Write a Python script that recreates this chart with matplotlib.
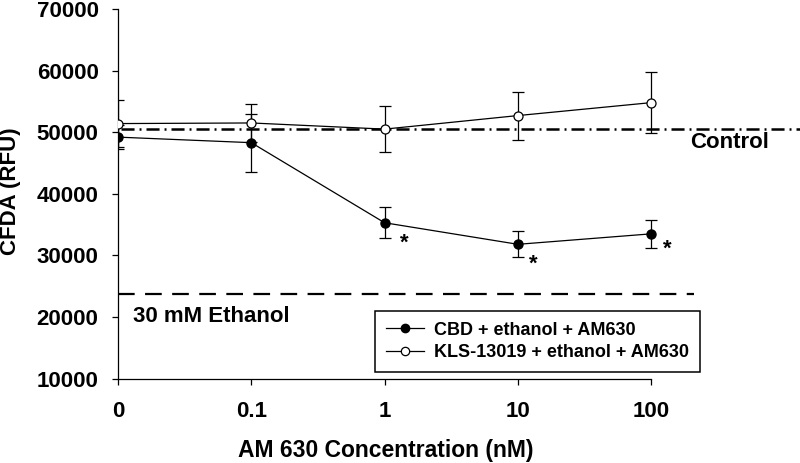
import matplotlib
matplotlib.use("Agg")
import matplotlib.pyplot as plt
import matplotlib.transforms as mtransforms
from matplotlib.lines import Line2D
import numpy as np

plt.rcParams['font.family'] = ['Liberation Sans', 'DejaVu Sans']
plt.rcParams['font.weight'] = 'bold'
plt.rcParams['lines.scale_dashes'] = False

# ---- data ----
x_labels = ['0', '0.1', '1', '10', '100']
cbd = [49200, 48300, 35300, 31800, 33500]
cbd_err = [2000, 4700, 2500, 2100, 2300]
kls = [51400, 51500, 50500, 52700, 54800]
kls_err = [3800, 3100, 3700, 3900, 5000]
control_level = 50450
ethanol_level = 23800
star_idx = [2, 3, 4]
yticks = [10000, 20000, 30000, 40000, 50000, 60000, 70000]
series_names = ['CBD + ethanol + AM630', 'KLS-13019 + ethanol + AM630']

W, H = 800, 463
fig = plt.figure(figsize=(8, 4.63), dpi=100)
ax_left, ax_right = 118, 700
ax_top, ax_bot = 9, 378.6
ax = fig.add_axes([ax_left / W, 1 - ax_bot / H, (ax_right - ax_left) / W, (ax_bot - ax_top) / H])

x = np.arange(len(x_labels))
step_px = 133.3
ax.set_xlim(0, (ax_right - ax_left) / step_px)
ax.set_ylim(10000, 70000)

# reference lines
trans = mtransforms.blended_transform_factory(ax.transAxes, ax.transData)
ax.plot([0.005, (W - ax_left) / (ax_right - ax_left)], [control_level, control_level],
        transform=trans, color='black', lw=1.8, dashes=(9.4, 3.6, 1.4, 3.6),
        clip_on=False, zorder=1)
ax.plot([0, 0.99], [ethanol_level, ethanol_level], transform=trans,
        color='black', lw=1.6, dashes=(12, 7.5), zorder=1)

# series
ax.errorbar(x, cbd, yerr=cbd_err, color='black', lw=0.9, elinewidth=0.9,
            capsize=4, capthick=0.9, marker='o', ms=6.5, mfc='black',
            mec='black', zorder=3)
ax.errorbar(x, kls, yerr=kls_err, color='black', lw=0.9, elinewidth=0.9,
            capsize=4, capthick=0.9, marker='o', ms=6.5, mfc='white',
            mec='black', mew=0.9, zorder=4)

# significance stars
star_offsets = [(14, -19), (11, -18), (11.5, -15)]
for i, off in zip(star_idx, star_offsets):
    ax.annotate('*', xy=(x[i], cbd[i]), xytext=off, textcoords='offset points',
                ha='center', va='baseline', fontsize=16, fontweight='bold')

# text labels
ax.text(690 / W, 1 - 143 / H, 'Control', transform=fig.transFigure,
        fontsize=16, fontweight='bold', ha='left', va='center')
ax.text(133 / W, 1 - 316 / H, '30 mM Ethanol', transform=fig.transFigure,
        fontsize=16, fontweight='bold', ha='left', va='center')

# axes styling
for s in ['top', 'right']:
    ax.spines[s].set_visible(False)
ax.spines['bottom'].set_bounds(0, 4)
ax.spines['left'].set_linewidth(0.9)
ax.spines['bottom'].set_linewidth(0.9)
ax.set_xticks(x)
ax.set_xticklabels(x_labels)
ax.set_yticks(yticks)
ax.set_yticklabels([str(v) for v in yticks])
ax.tick_params(axis='both', direction='out', length=4, width=0.9, labelsize=16)
ax.tick_params(axis='y', pad=10)
ax.tick_params(axis='x', pad=12)
for lab in ax.get_xticklabels() + ax.get_yticklabels():
    lab.set_fontweight('bold')

fig.text(11 / W, 1 - 191 / H, 'CFDA (RFU)', rotation=90, fontsize=16,
         fontweight='bold', ha='center', va='center')
fig.text(386 / W, 1 - 450 / H, 'AM 630 Concentration (nM)', fontsize=16.5,
         fontweight='bold', ha='center', va='center')

handles = [
    Line2D([], [], color='black', lw=0.9, marker='o', ms=6, mfc='black', mec='black'),
    Line2D([], [], color='black', lw=0.9, marker='o', ms=6, mfc='white', mec='black', mew=0.9),
]
leg = ax.legend(handles, series_names, loc='lower right',
                bbox_to_anchor=(ax_right / W, 1 - 372 / H),
                bbox_transform=fig.transFigure, borderaxespad=0, frameon=True,
                fancybox=False, edgecolor='black', framealpha=1,
                prop={'size': 13, 'weight': 'bold'}, handlelength=2.1,
                handletextpad=0.55, borderpad=0.6, labelspacing=0.3)
leg.get_frame().set_linewidth(1.1)

fig.savefig('out.png', dpi=100)
